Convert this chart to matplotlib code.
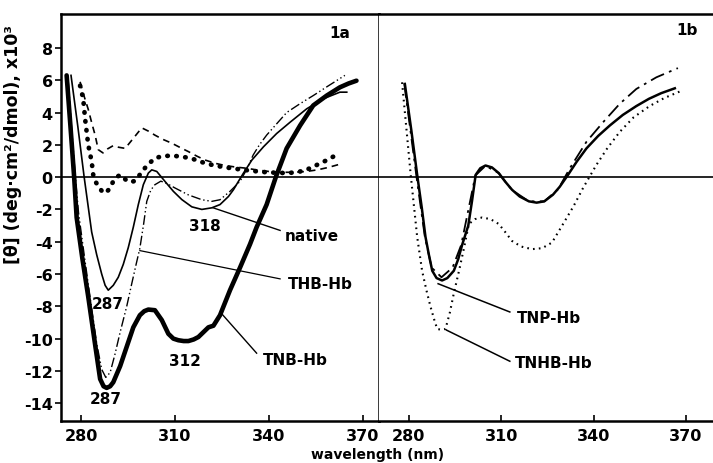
import matplotlib
matplotlib.use("Agg")
import matplotlib.pyplot as plt

plt.rcParams['font.family'] = ['DejaVu Sans']
plt.rcParams['axes.unicode_minus'] = False

# ---- panel 1a: data (wavelength nm, [theta] x10^3) ----
tnb_x = [275.4, 276.6, 277.8, 278.6, 280.4, 282.3, 284.6, 286.1, 287.2, 288.2, 289.3, 290.3,
         292.5, 294.6, 296.7, 298.8, 300.2, 301.5, 303.6, 305.8, 307.9, 309.5, 311.1, 312.8,
         314.3, 316.0, 317.5, 320.7, 322.3, 324.4, 327.6, 330.8, 334.0, 336.1, 339.3, 342.3,
         345.7, 350.0, 354.2, 358.5, 362.7, 365.5, 368.0]
tnb_y = [6.3, 3.2, 0.0, -2.5, -5.0, -7.4, -10.5, -12.5, -12.95, -13.05, -12.95, -12.7,
         -11.7, -10.5, -9.3, -8.55, -8.3, -8.2, -8.24, -8.85, -9.7, -10.0, -10.1, -10.15,
         -10.15, -10.05, -9.9, -9.3, -9.2, -8.55, -7.0, -5.6, -4.15, -3.1, -1.7, 0.04,
         1.78, 3.2, 4.44, 5.05, 5.56, 5.8, 5.97]

native_x = [276.8, 279.0, 281.0, 283.4, 285.0, 286.6, 287.7, 288.7, 290.3, 291.9, 293.5, 295.1,
            296.7, 298.3, 299.9, 301.5, 302.6, 304.2, 306.8, 309.5, 312.2, 315.4, 318.6, 321.8,
            324.4, 327.1, 328.7, 330.3, 331.9, 334.6, 338.3, 342.5, 346.8, 352.1, 357.4, 362.7,
            364.9]
native_y = [6.3, 3.1, 0.0, -3.4, -4.8, -6.0, -6.7, -7.0, -6.7, -6.2, -5.4, -4.36,
            -3.1, -1.7, -0.47, 0.25, 0.45, 0.35, -0.26, -0.88, -1.39, -1.84, -2.0, -1.9,
            -1.7, -1.2, -0.78, -0.26, 0.25, 1.06, 1.88, 2.7, 3.4, 4.23, 4.85, 5.26,
            5.26]

thb_x = [275.9, 277.0, 278.2, 279.2, 281.0, 283.0, 285.0, 286.6, 287.9, 289.3, 290.8, 292.5,
         294.6, 296.2, 297.6, 298.8, 300.0, 301.0, 302.3, 303.6, 305.5, 307.5, 310.0, 314.3,
         318.6, 321.8, 324.4, 327.6, 330.8, 333.0, 335.0, 337.0, 339.3, 342.5, 345.7, 350.0,
         354.2, 359.0, 364.3]
thb_y = [6.0, 3.0, 0.0, -2.2, -4.8, -7.6, -10.3, -11.9, -12.4, -12.1, -11.0, -9.6,
         -8.0, -6.6, -5.4, -4.4, -2.9, -1.5, -0.8, -0.47, -0.25, -0.4, -0.67, -1.1,
         -1.4, -1.5, -1.4, -0.88, -0.26, 0.5, 1.37, 2.0, 2.6, 3.3, 4.0, 4.55,
         5.05, 5.65, 6.3]

dash_x = [279.7, 281.0, 282.3, 283.5, 284.5, 285.5, 287.0, 288.5, 290.3, 292.0, 294.1, 296.7,
          299.4, 301.5, 303.6, 306.0, 309.0, 312.0, 314.3, 317.0, 319.6, 323.0, 326.0, 329.5,
          332.9, 336.0, 340.0, 344.0, 348.0, 352.0, 355.5, 359.0, 362.7]
dash_y = [5.9, 5.0, 4.2, 3.3, 2.6, 1.7, 1.5, 1.75, 1.95, 1.85, 1.78, 2.4,
          3.05, 2.85, 2.6, 2.35, 2.1, 1.8, 1.58, 1.3, 1.06, 0.85, 0.72, 0.62,
          0.55, 0.45, 0.35, 0.3, 0.3, 0.35, 0.45, 0.6, 0.8]

dot_x = [279.7, 280.7, 281.3, 282.3, 283.4, 283.9, 284.7, 285.5, 286.6, 287.7, 289.0, 290.3,
         291.4, 292.5, 293.5, 294.6, 296.0, 297.3, 298.6, 299.9, 301.5, 303.6, 306.0, 309.0,
         311.5, 314.3, 317.0, 319.6, 322.0, 324.4, 328.0, 331.9, 335.5, 339.3, 342.5, 345.7,
         349.0, 352.0, 355.3, 358.0, 360.6]
dot_y = [5.66, 4.85, 3.6, 2.0, 0.96, 0.14, -0.3, -0.57, -0.85, -1.0, -0.75, -0.26,
         0.0, 0.14, 0.0, -0.23, -0.3, -0.23, 0.1, 0.45, 0.8, 1.17, 1.3, 1.33,
         1.28, 1.2, 1.05, 0.86, 0.75, 0.66, 0.55, 0.45, 0.37, 0.3, 0.27, 0.25,
         0.3, 0.45, 0.75, 1.0, 1.27]

# ---- panel 1b ----
tnp_x = [278.7, 280.8, 282.8, 284.2, 285.4, 286.5, 287.6, 289.0, 290.8, 292.5, 294.6, 296.0,
         297.3, 299.3, 300.5, 301.7, 303.2, 304.9, 307.0, 309.2, 311.3, 313.5, 316.0, 319.0,
         321.5, 324.0, 326.8, 329.0, 331.7, 334.5, 337.7, 341.5, 345.3, 349.5, 353.9, 358.0,
         362.0, 366.4]
tnp_y = [5.77, 2.9, 0.0, -1.9, -3.7, -4.8, -5.8, -6.25, -6.4, -6.25, -5.8, -5.1,
         -4.2, -3.0, -1.5, 0.14, 0.55, 0.72, 0.6, 0.25, -0.28, -0.78, -1.2, -1.5,
         -1.58, -1.5, -1.09, -0.6, 0.14, 0.95, 1.78, 2.55, 3.2, 3.85, 4.4, 4.85,
         5.2, 5.5]

tnhb_x = [277.8, 279.2, 280.6, 282.7, 284.3, 285.7, 287.0, 288.2, 289.2, 290.5, 291.9, 293.3,
          294.6, 296.3, 297.9, 299.5, 301.5, 303.8, 306.5, 309.2, 311.3, 313.5, 316.5, 320.0,
          323.3, 326.5, 330.1, 333.5, 336.6, 340.9, 344.5, 348.5, 353.0, 358.2, 363.0, 368.0]
tnhb_y = [5.87, 3.0, 0.14, -3.7, -5.8, -7.0, -8.0, -8.8, -9.4, -9.45, -9.4, -8.4,
          -7.2, -5.8, -4.4, -2.9, -2.6, -2.5, -2.6, -2.9, -3.4, -3.95, -4.3, -4.46,
          -4.4, -4.05, -2.9, -1.8, -0.67, 0.75, 1.8, 2.8, 3.7, 4.4, 4.9, 5.3]

dd_x = [278.5, 282.5, 285.2, 287.4, 290.6, 294.2, 297.0, 301.6, 304.9, 309.2, 313.5, 319.0,
        324.0, 328.5, 332.3, 337.7, 343.1, 348.5, 353.9, 360.4, 367.4]
dd_y = [5.8, 0.0, -3.7, -5.6, -6.2, -5.6, -4.2, 0.1, 0.7, 0.25, -0.8, -1.5,
        -1.5, -0.75, 0.55, 2.19, 3.4, 4.54, 5.46, 6.18, 6.75]

x_ticks = [280, 310, 340, 370]
y_ticks = [8, 6, 4, 2, 0, -2, -4, -6, -8, -10, -12, -14]

# ============================================================================
fig = plt.figure(figsize=(7.13, 4.64), dpi=100)
W, H = 713, 464
ax1 = fig.add_axes([61 / W, 1 - 422 / H, (379 - 61) / W, (422 - 15) / H])
ax2 = fig.add_axes([379 / W, 1 - 422 / H, (713 - 379) / W, (422 - 15) / H])

ylim = (-15.1, 10.1)
ax1.set_xlim(273.6, 375.2)
ax2.set_xlim(270.3, 378.8)

for ax in (ax1, ax2):
    ax.set_ylim(*ylim)
    ax.axhline(0, color='black', lw=1.2, zorder=1)
    ax.set_xticks(x_ticks)
    ax.set_xticklabels([str(t) for t in x_ticks], fontsize=11.5, fontweight='bold')
    ax.tick_params(axis='x', direction='in', length=4, width=1.2, pad=5)
    for s in ax.spines.values():
        s.set_linewidth(1.8)

ax1.set_yticks(y_ticks)
ax1.set_yticklabels([str(t) for t in y_ticks], fontsize=11.5, fontweight='bold')
ax1.tick_params(axis='y', direction='out', length=4, width=1.2, pad=2)
ax2.set_yticks([])
ax2.spines['left'].set_visible(False)
ax2.spines['right'].set_visible(False)

# panel 1a curves
ax1.plot(tnb_x, tnb_y, color='black', lw=3.3, solid_capstyle='round', zorder=3)
ax1.plot(native_x, native_y, color='black', lw=1.2, zorder=3)
ax1.plot(thb_x, thb_y, color='black', lw=1.0, dashes=(7, 2, 1, 2, 1, 2), zorder=3)
ax1.plot(dash_x, dash_y, color='black', lw=1.2, dashes=(4, 3), zorder=3)
ax1.plot(dot_x, dot_y, color='black', lw=3.4, linestyle=(0, (0.1, 1.8)),
         dash_capstyle='round', zorder=3)

# panel 1b curves
ax2.plot(dd_x, dd_y, color='black', lw=1.3, dashes=(8, 3, 1.5, 3), zorder=2)
ax2.plot(tnp_x, tnp_y, color='black', lw=1.8, zorder=3)
ax2.plot(tnhb_x, tnhb_y, color='black', lw=1.5, linestyle=(0, (0.8, 2.0)), zorder=3)

txt = dict(fontweight='bold', fontsize=11, color='black')

# annotations, panel 1a
ax1.text(362.7, 8.96, '1a', ha='center', va='center', **txt)
ax1.text(319.6, -3.0, '318', ha='center', va='center', **txt)
ax1.text(288.6, -7.85, '287', ha='center', va='center', **txt)
ax1.text(288.0, -13.7, '287', ha='center', va='center', **txt)
ax1.text(313.2, -11.35, '312', ha='center', va='center', **txt)
ax1.plot([322.2, 343.6], [-1.9, -3.3], color='black', lw=1.0)
ax1.text(345.2, -3.6, 'native', ha='left', va='center', **txt)
ax1.plot([298.8, 343.6], [-4.55, -6.3], color='black', lw=0.9)
ax1.text(346.1, -6.6, 'THB-Hb', ha='left', va='center', **txt)
ax1.plot([324.9, 336.1], [-8.45, -10.9], color='black', lw=1.0)
ax1.text(338.1, -11.3, 'TNB-Hb', ha='left', va='center', **txt)

# annotations, panel 1b
ax2.text(370.3, 9.14, '1b', ha='center', va='center', **txt)
ax2.plot([289.5, 312.8], [-6.6, -8.35], color='black', lw=1.1)
ax2.text(315.1, -8.7, 'TNP-Hb', ha='left', va='center', **txt)
ax2.plot([292.2, 312.8], [-9.47, -11.4], color='black', lw=1.1)
ax2.text(314.4, -11.5, 'TNHB-Hb', ha='left', va='center', **txt)

fig.text(13 / W, 1 - 145 / H, '[θ] (deg·cm²/dmol), x10³', rotation=90,
         ha='center', va='center', fontsize=12.5, fontweight='bold')
fig.text(378 / W, 1 - 455 / H, 'wavelength (nm)', ha='center', va='center',
         fontsize=10, fontweight='bold')

fig.savefig('out.png', dpi=100)
